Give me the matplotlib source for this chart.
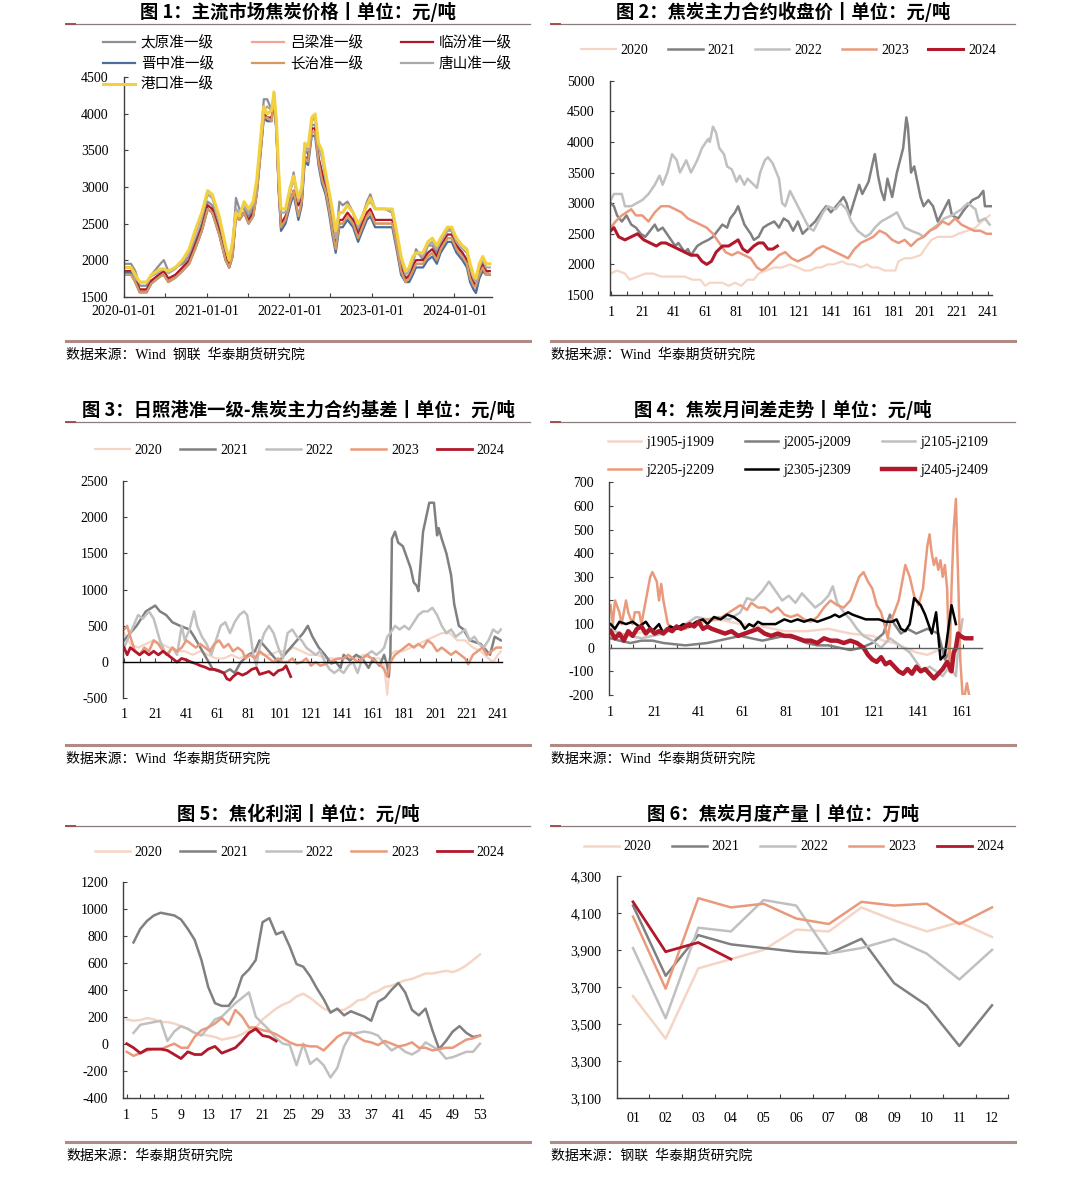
import matplotlib
matplotlib.use('Agg')
import matplotlib.pyplot as plt
import matplotlib.dates as md
import matplotlib.ticker as mt
from matplotlib.lines import Line2D
import pandas as pd

plt.rcParams['font.family'] = ['Liberation Serif', 'Noto Sans CJK SC']
plt.rcParams['axes.unicode_minus'] = False
CJK = ['Noto Sans CJK SC', 'DejaVu Sans']

C2020, C2021, C2022, C2023, C2024 = '#F5D5C5', '#808080', '#C0C0C0', '#EA9A7C', '#B2182B'
YEARS = ['2020', '2021', '2022', '2023', '2024']

# ---------- fig 1: coke prices by market ----------
p1_dates = ['2020-01-01', '2020-02-01', '2020-02-20', '2020-03-10', '2020-04-10', '2020-05-01', '2020-06-10',
            '2020-06-25', '2020-07-15', '2020-08-15', '2020-09-15', '2020-10-15', '2020-11-10', '2020-12-10',
            '2021-01-05', '2021-01-25', '2021-02-25', '2021-03-25', '2021-04-10', '2021-04-25', '2021-05-10',
            '2021-05-25', '2021-06-15', '2021-07-05', '2021-07-25', '2021-08-10', '2021-08-25', '2021-09-10',
            '2021-09-25', '2021-10-15', '2021-10-25', '2021-11-05', '2021-11-15', '2021-11-25', '2021-12-15',
            '2022-01-05', '2022-01-20', '2022-02-10', '2022-02-25', '2022-03-10', '2022-03-25', '2022-04-10',
            '2022-04-25', '2022-05-10', '2022-05-25', '2022-06-10', '2022-06-25', '2022-07-10', '2022-07-25',
            '2022-08-10', '2022-08-25', '2022-09-15', '2022-10-10', '2022-11-01', '2022-11-20', '2022-12-10',
            '2022-12-25', '2023-01-15', '2023-03-01', '2023-04-01', '2023-04-20', '2023-05-10', '2023-05-30',
            '2023-06-15', '2023-07-01', '2023-07-15', '2023-08-15', '2023-09-05', '2023-09-25', '2023-10-15',
            '2023-11-01', '2023-12-01', '2023-12-20', '2024-01-10', '2024-02-05', '2024-02-25', '2024-03-10',
            '2024-03-25', '2024-04-05', '2024-04-20', '2024-05-05', '2024-05-20', '2024-06-05']
p1_gangkou = [1900, 1900, 1800, 1700, 1700, 1800, 1880, 1880, 1850, 1900, 2000, 2150, 2400, 2650,
              2950, 2900, 2600, 2200, 2000, 2250, 2650, 2600, 2800, 2700, 2800, 3100, 3600, 4100,
              4000, 4050, 4300, 3900, 3200, 2700, 2700, 3000, 3150, 2850, 3000, 3600, 3550, 3950,
              4000, 3600, 3500, 3200, 2950, 2700, 2400, 2650, 2650, 2750, 2650, 2500, 2600, 2750,
              2850, 2700, 2700, 2700, 2400, 2050, 1850, 1900, 2050, 2100, 2100, 2250, 2300, 2200,
              2300, 2450, 2450, 2300, 2200, 2150, 1950, 1800, 1750, 1950, 2050, 1950, 1950]
p1_tangshan = [1900, 1900, 1750, 1700, 1700, 1780, 1850, 1880, 1820, 1880, 1980, 2100, 2350, 2600,
               2900, 2850, 2550, 2150, 2000, 2250, 2700, 2650, 2750, 2650, 2750, 3050, 3550, 4050,
               4100, 4050, 4250, 3850, 3100, 2650, 2650, 2950, 3100, 2800, 2950, 3550, 3500, 3900,
               3950, 3550, 3400, 3100, 2900, 2600, 2300, 2650, 2650, 2750, 2650, 2450, 2600, 2750,
               2800, 2700, 2700, 2650, 2350, 2000, 1800, 1850, 2000, 2100, 2050, 2200, 2250, 2150,
               2250, 2400, 2400, 2250, 2150, 2100, 1900, 1750, 1700, 1900, 2000, 1900, 1900]
p1_taiyuan = [1950, 1950, 1850, 1650, 1650, 1800, 1950, 2000, 1850, 1900, 1950, 2050, 2250, 2500,
              2800, 2750, 2450, 2100, 1950, 2150, 2850, 2700, 2700, 2600, 2700, 3000, 3500, 4200,
              4200, 4050, 4250, 3800, 3000, 2500, 2550, 2950, 3200, 2750, 2900, 3500, 3450, 3850,
              3850, 3400, 3200, 3000, 2800, 2450, 2200, 2800, 2750, 2800, 2650, 2400, 2600, 2800,
              2900, 2700, 2700, 2650, 2300, 1950, 1750, 1800, 1950, 2150, 2000, 2200, 2200, 2100,
              2300, 2450, 2400, 2200, 2100, 2000, 1850, 1700, 1650, 1850, 1950, 1850, 1850]
p1_linfen = [1850, 1850, 1750, 1600, 1600, 1720, 1820, 1850, 1750, 1800, 1900, 2000, 2200, 2450,
             2750, 2700, 2400, 2050, 1900, 2100, 2650, 2600, 2650, 2550, 2650, 2950, 3450, 4000,
             3950, 3950, 4250, 3800, 3000, 2500, 2600, 2800, 2950, 2750, 2850, 3400, 3400, 3800,
             3800, 3400, 3200, 3000, 2750, 2450, 2200, 2550, 2550, 2650, 2550, 2350, 2500, 2650,
             2700, 2550, 2550, 2550, 2250, 1900, 1750, 1780, 1900, 2000, 2000, 2100, 2150, 2050,
             2200, 2350, 2350, 2200, 2100, 2000, 1800, 1700, 1650, 1850, 1950, 1850, 1850]
p1_lvliang = [1800, 1800, 1700, 1580, 1580, 1700, 1800, 1830, 1720, 1780, 1880, 1980, 2150, 2400,
              2700, 2650, 2350, 2000, 1900, 2050, 2600, 2550, 2650, 2500, 2600, 2900, 3400, 3950,
              3900, 3950, 4200, 3750, 2950, 2450, 2550, 2800, 2950, 2600, 2800, 3400, 3350, 3750,
              3750, 3350, 3100, 2950, 2700, 2400, 2150, 2500, 2500, 2600, 2500, 2300, 2450, 2600,
              2650, 2500, 2500, 2500, 2200, 1850, 1700, 1750, 1850, 1950, 1950, 2050, 2100, 2000,
              2150, 2300, 2300, 2150, 2050, 1950, 1750, 1650, 1600, 1800, 1900, 1850, 1800]
p1_changzhi = [1800, 1800, 1700, 1560, 1560, 1680, 1780, 1800, 1700, 1760, 1850, 1950, 2150, 2400,
               2700, 2650, 2350, 2000, 1900, 2050, 2600, 2550, 2650, 2500, 2600, 2900, 3400, 3950,
               3950, 3900, 4300, 3750, 2950, 2450, 2550, 2800, 2950, 2600, 2800, 3400, 3350, 3750,
               3750, 3350, 3100, 2950, 2700, 2400, 2150, 2500, 2500, 2600, 2500, 2300, 2450, 2600,
               2650, 2500, 2500, 2500, 2200, 1850, 1700, 1750, 1850, 1950, 1950, 2050, 2100, 2000,
               2150, 2300, 2300, 2150, 2050, 1950, 1750, 1650, 1650, 1800, 1900, 1800, 1800]
p1_jinzhong = [1830, 1830, 1700, 1560, 1560, 1680, 1780, 1800, 1700, 1760, 1850, 1950, 2150, 2400,
               2700, 2650, 2350, 2000, 1900, 2050, 2600, 2550, 2650, 2500, 2600, 2900, 3400, 3950,
               3900, 3900, 4200, 3750, 2950, 2400, 2500, 2750, 2900, 2550, 2750, 3350, 3300, 3700,
               3700, 3300, 3050, 2900, 2650, 2350, 2100, 2450, 2450, 2550, 2450, 2250, 2400, 2550,
               2600, 2450, 2450, 2450, 2150, 1800, 1700, 1700, 1800, 1900, 1900, 2000, 2050, 1950,
               2100, 2250, 2250, 2100, 2000, 1900, 1700, 1600, 1550, 1750, 1850, 1800, 1800]
p1_names = ['太原准一级', '吕梁准一级', '临汾准一级', '晋中准一级', '长治准一级', '唐山准一级', '港口准一级']
p1_colors = ['#8E8E96', '#F2A592', '#B0182A', '#4A6E9E', '#D59A5E', '#A8A8A8', '#F3D03E']

# ---------- fig 2: main contract close (trading day index) ----------
p2_x20 = [1, 5, 10, 13, 18, 23, 28, 33, 38, 43, 48, 53, 58, 61, 64, 68, 72, 76, 80, 84, 88, 92, 95, 100, 105,
          110, 115, 120, 124, 128, 132, 135, 139, 143, 148, 152, 155, 160, 164, 167, 171, 175, 180, 182, 184,
          188, 192, 198, 202, 205, 209, 213, 218, 222, 228, 233, 237, 242]
p2_y20 = [1850, 1900, 1850, 1750, 1800, 1850, 1850, 1800, 1800, 1800, 1800, 1750, 1750, 1650, 1700, 1700, 1700,
          1650, 1700, 1650, 1750, 1750, 1850, 1900, 1950, 1950, 2000, 1950, 1900, 1900, 1950, 1950, 2000, 2000,
          2050, 2000, 2000, 1950, 2000, 1950, 1950, 1900, 1900, 1900, 2050, 2100, 2100, 2150, 2300, 2400, 2450,
          2450, 2450, 2500, 2550, 2600, 2700, 2800]
p2_x21 = [1, 3, 5, 8, 11, 14, 17, 20, 23, 29, 31, 34, 38, 42, 44, 48, 50, 52, 56, 59, 63, 66, 69, 72, 75, 77, 80,
          82, 84, 86, 90, 92, 95, 98, 101, 105, 108, 111, 114, 117, 120, 123, 127, 131, 135, 138, 141, 146, 149,
          151, 153, 156, 159, 161, 165, 168, 169, 171, 173, 175, 177, 180, 183, 185, 187, 189, 190, 192, 194,
          198, 200, 203, 206, 209, 212, 216, 218, 222, 226, 231, 235, 238, 239, 243]
p2_y21 = [3000, 2950, 2800, 2700, 2800, 2650, 2600, 2500, 2450, 2650, 2550, 2600, 2450, 2300, 2350, 2200, 2250,
          2150, 2300, 2350, 2400, 2450, 2550, 2650, 2600, 2750, 2850, 2950, 2800, 2650, 2500, 2400, 2450, 2600,
          2650, 2700, 2600, 2750, 2700, 2550, 2700, 2500, 2600, 2700, 2850, 2950, 2850, 3000, 3100, 3000, 2800,
          3050, 3300, 3150, 3350, 3700, 3800, 3450, 3200, 3050, 3400, 3100, 3500, 3700, 3900, 4400, 4250, 3500,
          3600, 3100, 2950, 3050, 2950, 2700, 2850, 3050, 2800, 2750, 2900, 3050, 3100, 3200, 2950, 2950]
p2_x22 = [1, 3, 8, 10, 14, 21, 25, 29, 32, 34, 37, 40, 43, 45, 49, 52, 56, 59, 63, 64, 66, 68, 70, 73, 75, 78, 81,
          83, 86, 88, 92, 94, 96, 99, 101, 104, 108, 110, 112, 115, 119, 123, 127, 130, 133, 136, 139, 144, 147,
          151, 154, 158, 163, 166, 169, 173, 180, 183, 185, 188, 192, 197, 200, 204, 209, 213, 218, 224, 228,
          233, 235, 239, 242]
p2_y22 = [3050, 3150, 3150, 2950, 2950, 3050, 3150, 3300, 3450, 3300, 3500, 3800, 3700, 3500, 3700, 3500, 3700,
          3900, 4050, 4000, 4250, 4150, 3900, 3800, 3600, 3550, 3350, 3450, 3300, 3400, 3300, 3250, 3500, 3700,
          3750, 3650, 3400, 3000, 2950, 3200, 3000, 2800, 2600, 2550, 2700, 2850, 2950, 2900, 3000, 2900, 2700,
          2550, 2450, 2500, 2600, 2700, 2800, 2850, 2750, 2600, 2550, 2500, 2450, 2550, 2650, 2750, 2800, 2900,
          3000, 2900, 2700, 2750, 2650]
p2_x23 = [1, 4, 8, 14, 17, 21, 25, 29, 33, 38, 42, 46, 50, 54, 58, 62, 66, 70, 74, 78, 82, 86, 90, 94, 97, 100,
          104, 108, 112, 116, 120, 124, 128, 132, 136, 140, 144, 148, 152, 156, 160, 164, 168, 172, 176, 180, 184,
          188, 192, 196, 200, 204, 208, 212, 216, 220, 224, 228, 232, 236, 240, 243]
p2_y23 = [2600, 2700, 2800, 2900, 2800, 2800, 2700, 2850, 2950, 2950, 2900, 2850, 2750, 2700, 2650, 2600, 2500,
          2350, 2200, 2150, 2200, 2150, 2100, 1950, 1900, 1950, 2050, 2150, 2200, 2100, 2050, 2100, 2150, 2250,
          2300, 2250, 2200, 2150, 2100, 2250, 2350, 2400, 2450, 2550, 2500, 2400, 2350, 2400, 2300, 2400, 2450,
          2550, 2600, 2700, 2650, 2750, 2650, 2600, 2550, 2550, 2500, 2500]
p2_x24 = [1, 3, 6, 10, 14, 18, 22, 26, 30, 33, 36, 40, 44, 48, 52, 56, 59, 62, 65, 68, 72, 76, 79, 82, 85, 88, 92,
          95, 98, 101, 104, 107]
p2_y24 = [2550, 2600, 2450, 2400, 2450, 2500, 2400, 2350, 2300, 2350, 2350, 2300, 2250, 2200, 2150, 2150, 2050,
          2000, 2050, 2200, 2300, 2300, 2350, 2400, 2250, 2200, 2300, 2350, 2350, 2250, 2250, 2300]

# ---------- fig 3: Rizhao basis ----------
p3_x20 = [1, 5, 10, 15, 20, 25, 30, 35, 40, 45, 50, 55, 60, 65, 70, 75, 80, 85, 90, 95, 100, 105, 110, 115, 120,
          125, 130, 135, 140, 145, 150, 155, 160, 165, 168, 170, 171, 172, 175, 180, 185, 190, 195, 200, 205, 210,
          215, 220, 225, 230, 235, 238, 241, 243]
p3_y20 = [400, 250, 200, 250, 300, 250, 200, 150, 150, 100, 150, 100, 50, 50, 100, 50, 100, 150, 100, 100, 150,
          150, 200, 150, 100, 100, 50, 50, 50, 50, 50, 100, 50, 50, -50, -450, -200, 100, 150, 150, 200, 250, 300,
          350, 400, 400, 300, 300, 200, 150, 50, 0, 100, 150]
p3_x21 = [1, 5, 9, 15, 21, 24, 28, 32, 37, 43, 46, 50, 54, 58, 62, 65, 69, 72, 76, 81, 85, 88, 92, 96, 100, 104,
          108, 112, 116, 119, 122, 126, 130, 134, 137, 140, 142, 146, 150, 154, 158, 161, 165, 168, 170, 171, 172,
          173, 175, 177, 180, 185, 187, 189, 190, 193, 195, 197, 200, 202, 203, 205, 208, 211, 213, 216, 219, 223,
          230, 236, 239, 243]
p3_y21 = [300, 400, 500, 700, 780, 700, 650, 550, 500, 450, 350, 200, 50, -100, -130, -150, -100, -150, 0, 100,
          150, 300, 200, 100, 0, 100, 200, 300, 400, 500, 350, 200, 100, -20, 0, -80, 100, 20, 100, 50, -80, 50,
          -50, 100, -50, -200, 100, 1700, 1800, 1650, 1600, 1300, 1100, 1050, 980, 1800, 2000, 2200, 2200, 1750,
          1850, 1700, 1500, 1200, 800, 500, 450, 300, 250, 100, 350, 300]
p3_x22 = [1, 5, 10, 13, 17, 20, 24, 28, 32, 35, 38, 40, 43, 46, 48, 51, 54, 57, 60, 63, 66, 69, 72, 75, 78, 80, 82,
          84, 86, 88, 91, 94, 97, 100, 103, 106, 109, 112, 115, 118, 121, 124, 127, 130, 133, 136, 139, 142, 145,
          148, 151, 154, 157, 160, 163, 166, 168, 170, 172, 175, 178, 181, 184, 187, 190, 193, 196, 199, 202, 205,
          208, 211, 214, 217, 220, 223, 226, 229, 232, 235, 238, 241, 243]
p3_y22 = [200, 400, 650, 600, 700, 600, 300, 100, 200, 100, 500, 300, 450, 700, 500, 350, 250, 100, 300, 500, 550,
          400, 550, 650, 700, 650, 400, 100, -50, 200, 400, 500, 400, 200, 50, 400, 450, 350, 300, 200, 150, 100,
          150, 0, -100, -150, -100, -150, -50, 0, -150, 50, 100, 150, 100, 150, 200, 350, 400, 500, 450, 500, 450,
          550, 650, 700, 700, 750, 650, 500, 400, 450, 350, 400, 450, 300, 350, 250, 200, 300, 450, 400, 450]
p3_x23 = [1, 3, 5, 8, 11, 14, 17, 20, 23, 26, 29, 32, 35, 38, 41, 44, 47, 50, 53, 56, 59, 62, 65, 68, 71, 74, 77,
          79, 82, 85, 88, 91, 94, 97, 100, 103, 106, 109, 112, 115, 118, 121, 124, 127, 130, 133, 136, 139, 142,
          145, 148, 151, 154, 157, 160, 163, 166, 168, 170, 172, 175, 178, 181, 184, 187, 190, 193, 196, 199, 202,
          205, 208, 211, 214, 217, 220, 222, 225, 228, 231, 234, 237, 240, 243]
p3_y23 = [450, 500, 350, 150, 100, 200, 150, 300, 250, 150, 100, 200, 150, 200, 300, 250, 200, 250, 200, 150, 250,
          300, 200, 250, 150, 200, 150, 50, 100, 50, 150, 100, 50, 0, 50, 0, 0, 50, -20, 0, 50, -50, 0, -50, -30,
          0, 30, 50, 50, 100, 50, 0, 50, 100, 50, 0, -50, -100, -200, 0, 100, 150, 200, 250, 200, 250, 200, 300,
          250, 150, 200, 150, 100, 150, 100, 50, -30, 100, 150, 200, 100, 150, 200, 200]
p3_x24 = [1, 3, 5, 8, 11, 14, 17, 20, 23, 26, 29, 32, 35, 38, 41, 44, 47, 50, 53, 56, 59, 62, 65, 67, 69, 71, 74,
          77, 80, 83, 86, 88, 91, 94, 97, 100, 103, 105, 107, 108]
p3_y24 = [200, 100, 200, 150, 100, 150, 100, 150, 100, 150, 100, 50, 0, 50, 30, 0, -20, -50, -70, -100, -100,
          -120, -150, -230, -250, -200, -150, -180, -150, -100, -80, -170, -150, -130, -180, -120, -100, -50,
          -150, -200]

# ---------- fig 4: calendar spreads ----------
p4_x1905 = [1, 10, 20, 30, 40, 50, 60, 70, 80, 90, 100, 110, 120, 125, 130, 135, 140, 145, 150, 155]
p4_y1905 = [50, 60, 70, 80, 100, 120, 100, 90, 70, 70, 80, 60, 50, 30, 20, 0, -20, -30, -10, 0]
p4_x2005 = [1, 5, 10, 15, 20, 25, 30, 35, 40, 45, 50, 55, 60, 65, 70, 75, 80, 85, 90, 95, 100, 105, 110, 115, 120,
            125, 128, 130, 133, 136, 140, 145, 150, 153, 155]
p4_y2005 = [40, 30, 20, 30, 30, 20, 15, 10, 15, 20, 30, 40, 50, 40, 30, 40, 50, 40, 20, 10, 10, 0, -10, 0, 20,
            60, 140, 100, 60, 80, 60, 80, 60, -50, -20]
p4_x2105 = [1, 5, 10, 15, 20, 25, 30, 35, 40, 45, 50, 55, 60, 63, 66, 70, 73, 76, 79, 82, 85, 88, 91, 94, 97, 100,
            102, 104, 107, 110, 113, 116, 120, 124, 128, 131, 134, 137, 140, 143, 146, 149, 152, 155, 158, 159, 161]
p4_y2105 = [80, 60, 50, 40, 50, 60, 80, 100, 130, 120, 130, 120, 150, 210, 200, 240, 280, 240, 200, 220, 190, 230,
            200, 170, 190, 220, 260, 190, 150, 120, 80, 50, 30, 0, 40, 20, 0, -20, -60, -100, -80, -100, -120, -80,
            -120, 0, 120]
p4_x2205 = [1, 2, 3, 5, 6, 8, 9, 11, 12, 14, 15, 17, 19, 20, 22, 23, 24, 25, 26, 27, 30, 35, 40, 45, 50, 55, 60,
            63, 65, 68, 71, 74, 77, 80, 83, 86, 89, 92, 95, 98, 101, 104, 107, 110, 112, 114, 116, 118, 120, 122,
            124, 126, 127, 128, 130, 132, 134, 135, 137, 139, 141, 143, 145, 146, 147, 148, 149, 150, 151, 152, 153,
            154, 155, 156, 157, 158, 159, 160, 161, 162, 163, 164]
p4_y2205 = [180, 100, 200, 150, 100, 200, 150, 100, 150, 150, 100, 200, 300, 320, 280, 200, 270, 200, 150, 100,
            80, 80, 100, 120, 120, 150, 180, 160, 190, 170, 170, 150, 170, 140, 130, 140, 120, 110, 130, 170, 200,
            180, 170, 200, 250, 300, 320, 280, 250, 180, 150, 80, 40, 100, 150, 200, 300, 350, 300, 220, 180, 250,
            430, 480, 400, 350, 380, 330, 370, 300, 350, 250, -100, 250, 500, 630, 300, -50, -200, -200, -150, -200]
p4_x2305 = [1, 3, 5, 8, 11, 14, 17, 20, 23, 25, 28, 31, 34, 37, 40, 43, 45, 48, 51, 54, 57, 60, 62, 64, 66, 68,
            70, 73, 76, 80, 83, 86, 89, 92, 95, 98, 101, 103, 105, 107, 109, 111, 114, 117, 120, 123, 126, 129, 131,
            133, 135, 137, 139, 142, 144, 147, 149, 151, 153, 156, 158]
p4_y2305 = [100, 80, 110, 100, 110, 90, 110, 70, 100, 60, 90, 80, 100, 90, 110, 120, 100, 130, 120, 140, 130, 110,
            80, 100, 90, 110, 100, 100, 100, 120, 110, 120, 110, 120, 110, 120, 130, 140, 130, 140, 150, 140, 130,
            120, 120, 120, 110, 110, 120, 80, 70, 100, 210, 180, 140, 60, 150, -50, -30, 180, 100]
p4_x2405 = [1, 3, 5, 7, 9, 11, 13, 15, 17, 19, 21, 23, 25, 27, 29, 31, 33, 35, 37, 39, 41, 43, 45, 47, 50, 53, 56,
            59, 62, 65, 68, 71, 74, 77, 80, 83, 86, 89, 92, 95, 98, 101, 104, 107, 110, 113, 116, 118, 120, 122, 124,
            126, 128, 130, 132, 134, 136, 138, 140, 142, 144, 146, 148, 150, 152, 154, 156, 157, 158, 159, 160, 162,
            164, 165]
p4_y2405 = [70, 40, 60, 30, 70, 50, 80, 90, 60, 80, 60, 70, 60, 80, 70, 90, 80, 90, 100, 90, 110, 80, 90, 80, 70,
            60, 70, 50, 60, 70, 80, 60, 50, 60, 50, 50, 40, 30, 30, 20, 40, 30, 30, 20, 30, 20, 0, -30, -50, -60,
            -40, -70, -60, -80, -100, -110, -90, -110, -80, -100, -90, -110, -130, -110, -90, -60, -100, -20, 0, 60,
            50, 40, 40, 40]
p4_names = ['j1905-j1909', 'j2005-j2009', 'j2105-j2109', 'j2205-j2209', 'j2305-j2309', 'j2405-j2409']

# ---------- fig 5: coking profit (week) ----------
p5_2020 = [180, 170, 175, 190, 180, 160, 160, 150, 130, 110, 80, 70, 60, 50, 30, 40, 50, 70, 100, 120,
           180, 220, 260, 290, 310, 350, 370, 340, 300, 260, 240, 250, 250, 280, 320, 330, 370, 390, 420, 430,
           450, 470, 480, 500, 520, 520, 530, 540, 530, 550, 580, 620, 660]
p5_2021 = [750, 850, 910, 950, 970, 960, 950, 920, 850, 770, 620, 420, 300, 280, 280, 350, 500, 550, 620, 900,
           930, 810, 830, 720, 590, 570, 500, 410, 330, 230, 260, 210, 240, 220, 200, 170, 310, 340, 400, 450,
           380, 250, 210, 260, 100, -40, 20, 90, 130, 80, 50, 60]
p5_2022 = [80, 140, 150, 160, 170, 20, 90, 130, 110, 80, 60, 120, 180, 200, 250, 300, 340, 380, 200, 150,
           100, 40, 0, -10, -160, 0, -150, -110, -160, -250, -180, -20, 70, 80, 90, 80, 60, 0, -50, -20,
           -60, -80, -50, 10, -20, -50, -110, -100, -80, -60, -60, 0]
p5_2023 = [-60, -90, -70, -50, -40, -40, -20, 0, -30, -30, 50, 100, 120, 150, 190, 140, 250, 200, 120, 120,
           100, 90, 70, 40, 10, -10, -10, -20, -20, -50, 0, 50, 80, 80, 50, 20, 10, -10, 20, 0,
           -20, -10, 10, -30, -30, -50, -40, -30, -30, 0, 30, 40, 60]
p5_2024 = [0, -30, -70, -40, -40, -40, -50, -80, -110, -60, -80, -80, -40, -20, -70, -50, -30, 20, 80, 110,
           60, 50, 20]

# ---------- fig 6: monthly output ----------
p6_months = ['01', '02', '03', '04', '05', '06', '07', '08', '09', '10', '11', '12']
p6_2020 = [3650, 3420, 3800, 3850, 3900, 4010, 4000, 4130, 4060, 4000, 4050, 3970]
p6_2021 = [4140, 3760, 3980, 3930, 3910, 3890, 3880, 3960, 3720, 3600, 3380, 3600]
p6_2022 = [3910, 3530, 4020, 4000, 4170, 4140, 3880, 3910, 3960, 3880, 3740, 3900]
p6_2023 = [4080, 3690, 4180, 4130, 4150, 4070, 4040, 4160, 4140, 4150, 4040, 4130]
p6_2024 = [4160, 3890, 3940, 3850]

W, H = 1079, 1191
fig = plt.figure(figsize=(W / 100, H / 100), dpi=100)


def fx(x):
    return x / W


def fy(y):
    return 1 - y / H


def make_ax(l, t, r, b):
    ax = fig.add_axes([fx(l), fy(b), (r - l) / W, (b - t) / H])
    for s in ['top', 'right']:
        ax.spines[s].set_visible(False)
    for s in ['left', 'bottom']:
        ax.spines[s].set_color('#404040')
        ax.spines[s].set_linewidth(1.0)
    ax.tick_params(which='both', direction='in', length=3, width=0.8, color='#404040', labelsize=10)
    ax.tick_params(axis='y', pad=11)
    ax.tick_params(axis='x', pad=6)
    ax.patch.set_alpha(0)
    return ax


def frame(x0, x1, title, ty, uy, sy, src):
    fig.text(fx((x0 + x1) / 2), fy(ty), title, ha='center', va='center', fontsize=13.2,
             fontweight='bold', family=CJK)
    fig.add_artist(Line2D([fx(x0), fx(x1)], [fy(uy)] * 2, color='#8C7B7B', lw=0.9))
    fig.add_artist(Line2D([fx(x0), fx(x0 + 9)], [fy(uy)] * 2, color='#A05050', lw=1.4))
    fig.add_artist(Line2D([fx(x0), fx(x1)], [fy(sy)] * 2, color='#B08A84', lw=2.2))
    fig.text(fx(x0), fy(sy + 14), src, ha='left', va='center', fontsize=10)


def year_legend(handles, x, y, cs=1.3):
    fig.legend(handles, YEARS, loc='center left', bbox_to_anchor=(fx(x), fy(y)),
               bbox_transform=fig.transFigure, ncol=5, frameon=False, borderpad=0, borderaxespad=0,
               handlelength=2.5, handletextpad=0.35, columnspacing=cs, fontsize=10)


L, R = 66, 530
L2, R2 = 551, 1015
frame(L, R, '图 1：主流市场焦炭价格丨单位：元/吨', 12, 24, 341, '数据来源：Wind  钢联  华泰期货研究院')
frame(L2, R2, '图 2：焦炭主力合约收盘价丨单位：元/吨', 12, 24, 341, '数据来源：Wind  华泰期货研究院')
frame(L, R, '图 3：日照港准一级-焦炭主力合约基差丨单位：元/吨', 410, 422, 745, '数据来源：Wind  华泰期货研究院')
frame(L2, R2, '图 4：焦炭月间差走势丨单位：元/吨', 410, 422, 745, '数据来源：Wind  华泰期货研究院')
frame(L, R, '图 5：焦化利润丨单位：元/吨', 814, 826, 1142, '数据来源：华泰期货研究院')
frame(L2, R2, '图 6：焦炭月度产量丨单位：万吨', 814, 826, 1142, '数据来源：钢联  华泰期货研究院')

# ---- fig 1
ax1 = make_ax(124, 77.3, 492, 296.7)
d1 = pd.to_datetime(p1_dates)
p1_series = [p1_taiyuan, p1_lvliang, p1_linfen, p1_jinzhong, p1_changzhi, p1_tangshan, p1_gangkou]
h1 = []
for vals, c, n in zip(p1_series, p1_colors, p1_names):
    lw = 2.2 if n == '港口准一级' else 1.6
    h1 += ax1.plot(d1, vals, color=c, lw=lw, label=n)
ax1.set_xlim(pd.Timestamp('2020-01-01'), pd.Timestamp('2024-06-15'))
ax1.set_ylim(1500, 4500)
ax1.set_yticks(range(1500, 4501, 500))
ax1.xaxis.set_major_locator(md.YearLocator())
ax1.xaxis.set_minor_locator(md.MonthLocator(bymonth=7))
ax1.xaxis.set_major_formatter(md.DateFormatter('%Y-%m-%d'))
order = [0, 3, 6, 1, 4, 2, 5]
fig.legend([h1[i] for i in order], [p1_names[i] for i in order], loc='upper left',
           bbox_to_anchor=(fx(103), fy(36)), bbox_transform=fig.transFigure, ncol=3, frameon=False,
           borderpad=0, borderaxespad=0, handlelength=2.2, handletextpad=0.4, columnspacing=2.6,
           labelspacing=0.42, prop={'family': CJK, 'size': 10.5})

# ---- fig 2
ax2 = make_ax(610, 80.7, 992, 295)
h2 = []
for xs, ys, c, lw in [(p2_x20, p2_y20, C2020, 1.6), (p2_x21, p2_y21, C2021, 1.8), (p2_x22, p2_y22, C2022, 1.8),
                      (p2_x23, p2_y23, C2023, 1.8), (p2_x24, p2_y24, C2024, 2.2)]:
    h2 += ax2.plot(xs, ys, color=c, lw=lw)
ax2.set_xlim(0.5, 243.5)
ax2.set_ylim(1500, 5000)
ax2.set_yticks(range(1500, 5001, 500))
ax2.set_xticks(range(1, 244, 20))
ax2.set_xticks(range(11, 244, 20), minor=True)
ax2.tick_params(axis='x', pad=8)
year_legend(h2, 581, 50, cs=1.4)

# ---- fig 3
ax3 = make_ax(123.3, 481, 501.7, 698.3)
h3 = []
for xs, ys, c, lw in [(p3_x20, p3_y20, C2020, 1.6), (p3_x21, p3_y21, C2021, 1.8), (p3_x22, p3_y22, C2022, 1.8),
                      (p3_x23, p3_y23, C2023, 1.8), (p3_x24, p3_y24, C2024, 2.0)]:
    h3 += ax3.plot(xs, ys, color=c, lw=lw)
ax3.set_xlim(0.5, 243.5)
ax3.set_ylim(-500, 2500)
ax3.set_yticks(range(-500, 2501, 500))
ax3.set_xticks(range(1, 244, 20))
ax3.set_xticks(range(11, 244, 20), minor=True)
ax3.spines['bottom'].set_position(('data', 0))
ax3.spines['bottom'].set_color('black')
ax3.tick_params(axis='x', pad=33)
year_legend(h3, 95, 450)

# ---- fig 4
ax4 = make_ax(609.3, 482.3, 982.3, 695)
p4_data = [(p4_x1905, p4_y1905, '#F5D5C8', 1.8), (p4_x2005, p4_y2005, '#808080', 1.8),
           (p4_x2105, p4_y2105, '#C0C0C0', 1.8), (p4_x2205, p4_y2205, '#EA9A7C', 1.8),
           (p4_x2305, p4_y2305, 'black', 1.8), (p4_x2405, p4_y2405, '#B2182B', 3.2)]
h4 = []
for xs, ys, c, lw in p4_data:
    h4 += ax4.plot(xs, ys, color=c, lw=lw)
ax4.set_xlim(0.4, 170)
ax4.set_ylim(-200, 700)
ax4.set_yticks(range(-200, 701, 100))
ax4.set_xticks(range(1, 170, 20))
ax4.set_xticks(range(11, 170, 20), minor=True)
ax4.spines['bottom'].set_position(('data', 0))
ax4.spines['bottom'].set_color('#606060')
ax4.tick_params(axis='x', pad=42)
order4 = [0, 3, 1, 4, 2, 5]
fig.legend([h4[i] for i in order4], [p4_names[i] for i in order4], loc='upper left',
           bbox_to_anchor=(fx(608), fy(436)), bbox_transform=fig.transFigure, ncol=3, frameon=False,
           borderpad=0, borderaxespad=0, handlelength=2.35, handletextpad=0.43, columnspacing=2.2,
           labelspacing=1.05, fontsize=10)

# ---- fig 5
ax5 = make_ax(123.3, 881.7, 483.3, 1097.7)
wk = list(range(1, 54))
h5 = []
h5 += ax5.plot(wk, p5_2020, color=C2020, lw=1.8)
h5 += ax5.plot(wk[1:], p5_2021, color=C2021, lw=1.8)
h5 += ax5.plot(wk[1:], p5_2022, color=C2022, lw=1.8)
h5 += ax5.plot(wk, p5_2023, color=C2023, lw=1.8)
h5 += ax5.plot(wk[:len(p5_2024)], p5_2024, color=C2024, lw=2.0)
ax5.set_xlim(0.5, 53.5)
ax5.set_ylim(-400, 1200)
ax5.set_yticks(range(-400, 1201, 200))
ax5.set_xticks(range(1, 54, 4))
ax5.set_xticks(range(3, 54, 4), minor=True)
ax5.tick_params(axis='x', pad=8)
year_legend(h5, 95, 852)

# ---- fig 6
ax6 = make_ax(616.7, 876, 1008.3, 1097.7)
h6 = []
for vals, c, lw in [(p6_2020, C2020, 1.8), (p6_2021, C2021, 1.8), (p6_2022, C2022, 1.8),
                    (p6_2023, C2023, 1.8), (p6_2024, C2024, 2.0)]:
    h6 += ax6.plot(p6_months[:len(vals)], vals, color=c, lw=lw)
ax6.set_xlim(-0.5, 11.5)
ax6.set_ylim(3100, 4300)
ax6.set_yticks(range(3100, 4301, 200))
ax6.yaxis.set_major_formatter(mt.StrMethodFormatter('{x:,.0f}'))
ax6.set_xticks([i + 0.5 for i in range(12)], minor=True)
ax6.tick_params(axis='x', which='major', length=0, pad=10)
year_legend(h6, 584, 847, cs=1.5)

fig.savefig('out.png', dpi=100)
